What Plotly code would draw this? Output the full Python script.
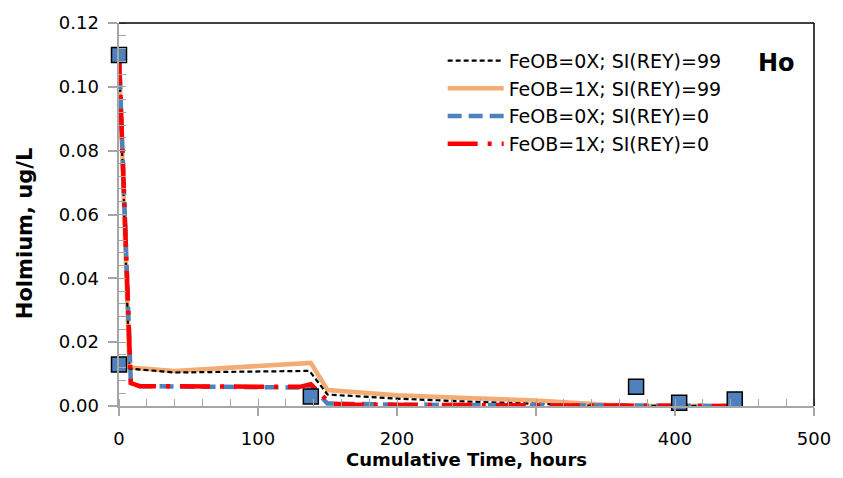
import plotly.graph_objects as go

# Modelled holmium concentrations (ug/L) over cumulative time (hours)
t_fe0_si99 = [0, 7.5, 40, 137, 150, 200, 250, 300, 340, 443]
ho_fe0_si99 = [0.110, 0.0117, 0.0105, 0.0110, 0.0036, 0.0023, 0.0014, 0.0007, 0.0001, 0.0]

t_fe1_si99 = [0, 7.5, 40, 138, 150, 200, 250, 300, 350, 380, 443]
ho_fe1_si99 = [0.110, 0.0121, 0.0110, 0.0135, 0.0050, 0.0034, 0.0025, 0.0017, 0.0004, 0.0, 0.0]

t_fe0_si0 = [0, 8.5, 15, 130, 138, 150, 200, 300, 443]
ho_fe0_si0 = [0.110, 0.0075, 0.0062, 0.0058, 0.0063, 0.0008, 0.0004, 0.0002, 0.0]

t_fe1_si0 = [0, 8.5, 15, 130, 138, 152, 170, 300, 443]
ho_fe1_si0 = [0.110, 0.0072, 0.0062, 0.0060, 0.0068, 0.0008, 0.0004, 0.0001, 0.0]

# Measured holmium
t_obs = [0, 0, 138, 372, 403, 443]
ho_obs = [0.110, 0.013, 0.003, 0.006, 0.001, 0.002]

x_ticks = [0, 100, 200, 300, 400, 500]
y_ticks = [0.00, 0.02, 0.04, 0.06, 0.08, 0.10, 0.12]

FONT = "DejaVu Sans"
AXIS_GREY = "#a6a6a6"

fig = go.Figure()

fig.add_trace(go.Scatter(
    x=t_fe1_si99, y=ho_fe1_si99, mode="lines", name="FeOB=1X; SI(REY)=99",
    legendrank=2,
    line=dict(color="rgba(241,157,92,0.85)", width=4.5),
))
fig.add_trace(go.Scatter(
    x=t_fe0_si99, y=ho_fe0_si99, mode="lines", name="FeOB=0X; SI(REY)=99",
    legendrank=1,
    line=dict(color="black", width=2.2, dash="5px,3px"),
))
fig.add_trace(go.Scatter(
    x=t_fe0_si0, y=ho_fe0_si0, mode="lines", name="FeOB=0X; SI(REY)=0",
    legendrank=3,
    line=dict(color="#4f81bd", width=4.5, dash="14px,7px"),
))
fig.add_trace(go.Scatter(
    x=t_fe1_si0, y=ho_fe1_si0, mode="lines", name="FeOB=1X; SI(REY)=0",
    legendrank=4,
    line=dict(color="#ff0000", width=4.5, dash="30px,10px,4px,10px"),
))
fig.add_trace(go.Scatter(
    x=t_obs, y=ho_obs, mode="markers", showlegend=False, cliponaxis=False,
    marker=dict(symbol="square", size=15, color="#4f81bd",
                line=dict(color="black", width=1.5)),
))

fig.add_annotation(
    x=0.975, y=0.895, xref="paper", yref="paper", xanchor="right", yanchor="middle",
    text="<b>Ho</b>", showarrow=False, font=dict(family=FONT, size=24, color="black"),
)

# Y-axis title, set a little below the axis midpoint
fig.add_annotation(
    x=-0.136, y=0.45, xref="paper", yref="paper", xanchor="center", yanchor="middle",
    text="<b>Holmium, ug/L</b>", textangle=-90, showarrow=False,
    font=dict(family=FONT, size=21, color="black"),
)

# Plot frame on the top and right
fig.add_shape(type="line", xref="paper", yref="paper", x0=0, x1=1, y0=1, y1=1,
              line=dict(color="black", width=1.5))
fig.add_shape(type="line", xref="paper", yref="paper", x0=1, x1=1, y0=0, y1=1,
              line=dict(color="black", width=1.5))

fig.update_layout(
    width=843, height=478,
    margin=dict(l=119, r=25, t=19, b=72),
    paper_bgcolor="white", plot_bgcolor="white",
    font=dict(family=FONT, color="black"),
    legend=dict(
        x=0.4657, y=0.951, xanchor="left", yanchor="top",
        font=dict(family=FONT, size=19, color="black"),
        bgcolor="rgba(0,0,0,0)", traceorder="normal",
        itemwidth=56,
    ),
)

fig.update_xaxes(
    range=[0, 500], tickvals=x_ticks, ticktext=[str(v) for v in x_ticks],
    showgrid=False, zeroline=False, showline=True, linecolor=AXIS_GREY, linewidth=1.5,
    ticks="outside", ticklen=8, tickcolor=AXIS_GREY, tickwidth=1.5, ticklabelstandoff=8,
    tickfont=dict(family=FONT, size=18, color="black"),
    minor=dict(dtick=20, tick0=0, ticks="inside", ticklen=7, tickcolor=AXIS_GREY, tickwidth=1.2),
    title=dict(text="<b>Cumulative Time, hours</b>", font=dict(family=FONT, size=18, color="black"),
               standoff=2),
)
fig.update_yaxes(
    range=[0, 0.12], tickvals=y_ticks, ticktext=[f"{v:.2f}\u00a0" for v in y_ticks],
    showgrid=False, zeroline=False, showline=True, linecolor=AXIS_GREY, linewidth=1.5,
    ticks="outside", ticklen=9, tickcolor=AXIS_GREY, tickwidth=1.5,
    tickfont=dict(family=FONT, size=18, color="black"),
    minor=dict(dtick=0.004, tick0=0, ticks="inside", ticklen=7, tickcolor=AXIS_GREY, tickwidth=1.2),
)

fig.write_html("out.html")
